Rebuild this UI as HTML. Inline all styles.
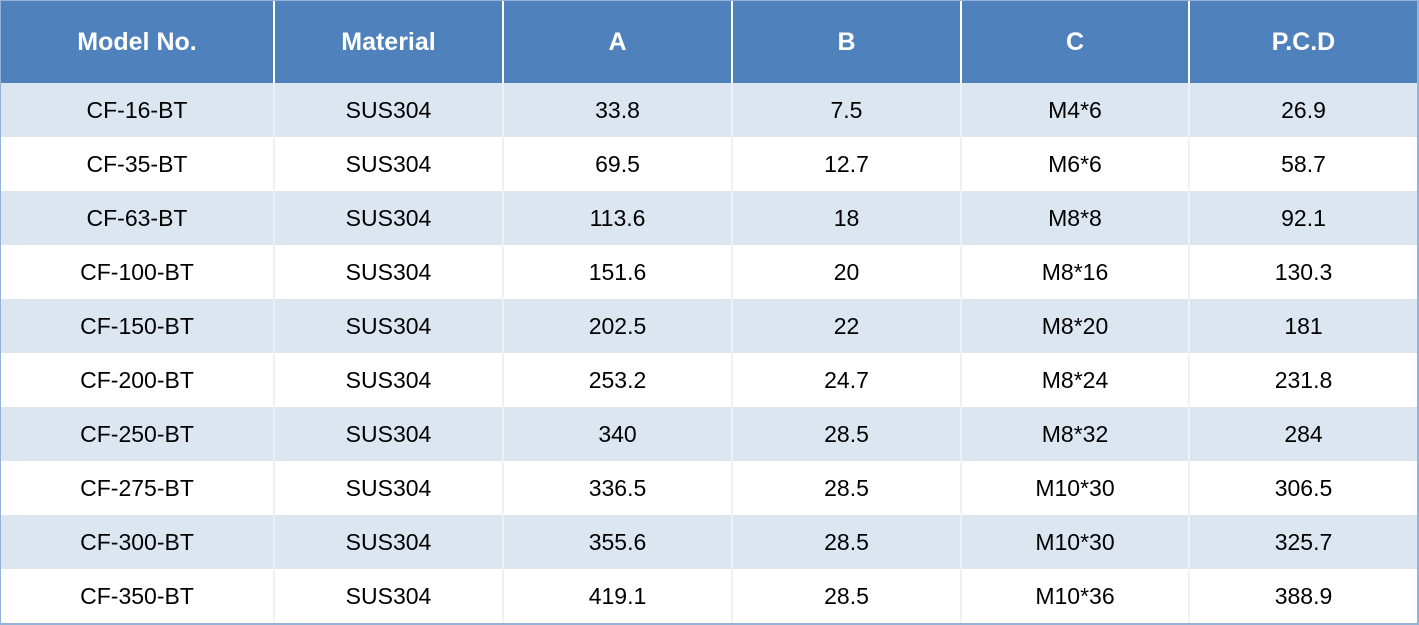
<!DOCTYPE html>
<html><head><meta charset="utf-8"><style>
body{margin:0;width:1419px;height:625px;background:#fff;overflow:hidden;font-family:"Liberation Sans",sans-serif;}
#t{position:absolute;left:0;top:0;width:1419px;height:625px;box-sizing:border-box;border-right:3px solid #95b3d7;border-bottom:3px solid #95b3d7;border-left:1px solid #95b3d7;border-top:1px solid #95b3d7;}
.r{position:absolute;left:0;width:1416px;height:54px;}
.c{position:absolute;top:0;height:100%;display:flex;align-items:center;justify-content:center;font-size:23px;color:#000;border-right:2px solid #eef0f3;box-sizing:border-box;}
.h .c{color:#fff;font-weight:bold;font-size:25px;border-right:2px solid #fff;}
.c:last-child{border-right:none;}
</style></head><body>
<div id="t"></div>
<script>
const headers=["Model No.","Material","A","B","C","P.C.D"];
const rows=[
["CF-16-BT","SUS304","33.8","7.5","M4*6","26.9"],
["CF-35-BT","SUS304","69.5","12.7","M6*6","58.7"],
["CF-63-BT","SUS304","113.6","18","M8*8","92.1"],
["CF-100-BT","SUS304","151.6","20","M8*16","130.3"],
["CF-150-BT","SUS304","202.5","22","M8*20","181"],
["CF-200-BT","SUS304","253.2","24.7","M8*24","231.8"],
["CF-250-BT","SUS304","340","28.5","M8*32","284"],
["CF-275-BT","SUS304","336.5","28.5","M10*30","306.5"],
["CF-300-BT","SUS304","355.6","28.5","M10*30","325.7"],
["CF-350-BT","SUS304","419.1","28.5","M10*36","388.9"]];
const xs=[0,274,503,732,961,1189,1416];
const t=document.getElementById('t');
function mk(cells,top,h,bg,cls,name){
 const r=document.createElement('div');r.className='r '+cls;
 
 
 r.style.top=top+'px';r.style.height=h+'px';r.style.background=bg;
 cells.forEach((v,i)=>{const c=document.createElement('div');c.className='c';
  
  
  c.style.left=xs[i]+'px';c.style.width=(xs[i+1]-xs[i])+'px';c.textContent=v;r.appendChild(c);});
 t.appendChild(r);
}
mk(headers,0,82,'#4f81bd','h','header-row');
rows.forEach((row,i)=>mk(row,82+i*54,54,i%2==0?'#dce6f1':'#ffffff','','row-'+(i+1)));
</script>
</body></html>
